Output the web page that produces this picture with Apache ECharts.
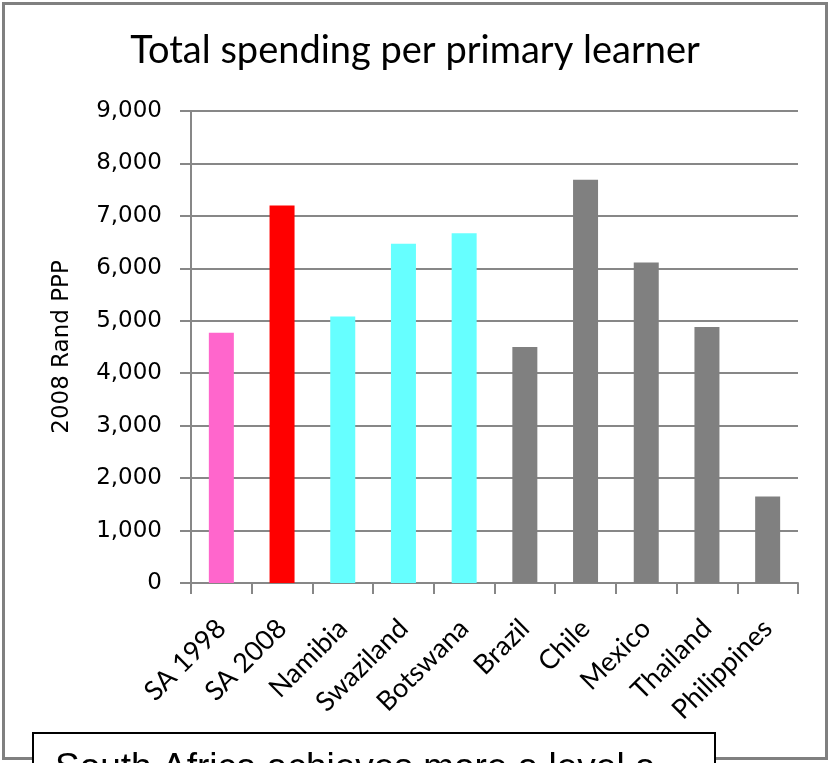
<!DOCTYPE html>
<html>
<head>
<meta charset="utf-8">
<script src="https://cdn.jsdelivr.net/npm/echarts@6/dist/echarts.min.js"></script>
<style>
  html, body { margin: 0; padding: 0; background: #fff; }
  #chart { width: 830px; height: 763px; }
</style>
</head>
<body>
<div id="chart"></div>
<script>
// Spending per primary learner, 2008 Rand PPP
const categories = ['SA 1998', 'SA 2008', 'Namibia', 'Swaziland', 'Botswana',
                    'Brazil', 'Chile', 'Mexico', 'Thailand', 'Philippines'];
const spending = [4770, 7200, 5080, 6470, 6670, 4500, 7690, 6110, 4880, 1650];
// bar colour per group: South Africa 1998, South Africa 2008, SACU neighbours, middle-income comparators
const barColors = ['#FF66CC', '#FF0000', '#66FFFF', '#66FFFF', '#66FFFF',
                   '#808080', '#808080', '#808080', '#808080', '#808080'];
const yTicks = { min: 0, max: 9000, interval: 1000 };

const chart = echarts.init(document.getElementById('chart'), null, { renderer: 'canvas' });

const gridColor = '#878787';

chart.setOption({
  animation: false,
  backgroundColor: '#ffffff',
  title: {
    text: 'Total spending per primary learner',
    left: 'center',
    top: 27,
    textStyle: { fontFamily: 'Lato', fontWeight: 'normal', fontSize: 38, color: '#000' }
  },
  grid: { left: 191, top: 111, width: 607, height: 472, containLabel: false },
  xAxis: {
    type: 'category',
    data: categories,
    boundaryGap: true,
    axisLine: { lineStyle: { color: gridColor, width: 2 } },
    axisTick: { show: true, length: 11, lineStyle: { color: gridColor, width: 2 } },
    axisLabel: {
      rotate: 45,
      margin: 41,
      interval: 0,
      fontFamily: 'Lato',
      fontSize: 27,
      color: '#000'
    }
  },
  yAxis: {
    type: 'value',
    min: yTicks.min,
    max: yTicks.max,
    interval: yTicks.interval,
    name: '2008 Rand PPP',
    nameLocation: 'middle',
    nameGap: 117,
    nameTextStyle: { fontFamily: 'DejaVu Sans', fontSize: 23, color: '#000' },
    axisLine: { show: true, lineStyle: { color: gridColor, width: 2 } },
    axisTick: { show: true, length: 11, lineStyle: { color: gridColor, width: 2 } },
    splitLine: { show: true, lineStyle: { color: gridColor, width: 2 } },
    axisLabel: {
      margin: 29,
      fontFamily: 'DejaVu Sans',
      fontSize: 23,
      color: '#000',
      formatter: v => v.toLocaleString('en-US')
    }
  },
  series: [{
    type: 'bar',
    barWidth: 25,
    data: spending.map((v, i) => ({ value: v, itemStyle: { color: barColors[i] } }))
  }],
  graphic: [
    {
      type: 'rect',
      shape: { x: 3.5, y: 3.5, width: 823, height: 755 },
      style: { fill: 'none', stroke: '#808080', lineWidth: 3 },
      silent: true,
      z: 10
    },
    {
      type: 'rect',
      shape: { x: 33, y: 733, width: 682, height: 60 },
      style: { fill: '#ffffff', stroke: '#000000', lineWidth: 2 },
      silent: true,
      z: 11
    },
    {
      type: 'text',
      x: 55,
      y: 750,
      style: {
        text: 'South Africa achieves more a level a',
        fontFamily: 'Liberation Sans',
        fontSize: 37,
        fill: '#000',
        textAlign: 'left',
        textVerticalAlign: 'top'
      },
      silent: true,
      z: 12
    }
  ]
});
</script>
</body>
</html>
